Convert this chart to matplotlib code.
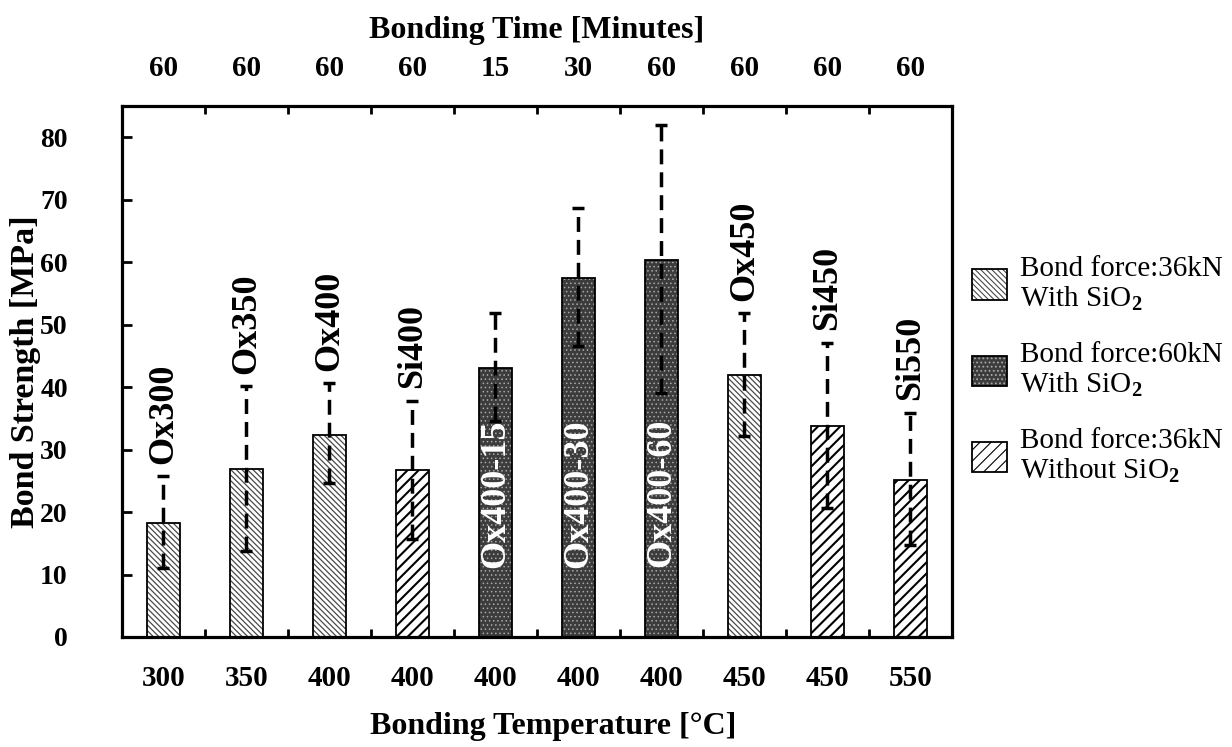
"""
plot.py

Bond strength of the wafer samples, grouped by bond force and oxide layer.
Saves the figure as out.png
"""

import numpy as np
import matplotlib
matplotlib.use("Agg")
import matplotlib.pyplot as plt
from matplotlib.patches import Patch
from matplotlib.legend_handler import HandlerTuple


# Data
sample_names = ["Ox300", "Ox350", "Ox400", "Si400", "Ox400-15",
                "Ox400-30", "Ox400-60", "Ox450", "Si450", "Si550"]
temperatures = ["300", "350", "400", "400", "400", "400", "400", "450", "450", "550"]
bond_times = ["60", "60", "60", "60", "15", "30", "60", "60", "60", "60"]
groups = ["ox36", "ox36", "ox36", "si36", "ox60", "ox60", "ox60", "ox36", "si36", "si36"]
strength = [18.3, 26.9, 32.4, 26.8, 43.0, 57.4, 60.4, 42.0, 33.8, 25.2]
err_low = [11.0, 13.8, 24.7, 15.7, 34.5, 46.5, 39.1, 32.2, 20.7, 14.7]
err_high = [25.7, 40.1, 40.6, 37.8, 51.9, 68.6, 81.9, 51.8, 47.1, 35.9]

group_labels = {
    "ox36": "Bond force:36kN\nWith SiO$_2$",
    "ox60": "Bond force:60kN\nWith SiO$_2$",
    "si36": "Bond force:36kN\nWithout SiO$_2$",
}


def setup_fonts():
    plt.rcParams["font.family"] = ["Liberation Serif", "DejaVu Serif"]
    plt.rcParams["font.weight"] = "bold"
    plt.rcParams["mathtext.fontset"] = "custom"
    plt.rcParams["mathtext.rm"] = "Liberation Serif"
    plt.rcParams["hatch.linewidth"] = 0.8


def bar_style(group):
    # face, hatch colour, hatch pattern, hatch line width
    if group == "ox36":
        return "white", "#4a4a4a", "\\" * 6, 0.9
    if group == "ox60":
        return "#3c3c3c", "#a8a8a8", "....", 0.6
    return "white", "black", "/" * 3, 1.5


def hatched_patch(artist, lw):
    # per-artist hatch width only if this matplotlib has it
    if hasattr(artist, "set_hatch_linewidth"):
        artist.set_hatch_linewidth(lw)


def plot_bonds(output_path="out.png"):
    setup_fonts()

    x = np.arange(len(sample_names))
    values = np.array(strength)
    low = np.array(err_low)
    high = np.array(err_high)
    width = 0.40

    fig = plt.figure(figsize=(12.32, 7.47), dpi=100)
    ax = fig.add_axes([0.099, 0.1473, 0.6737, 0.7108])

    handles = {}
    for g in ["ox36", "ox60", "si36"]:
        mask = np.array([gr == g for gr in groups])
        face, hcol, hatch, hlw = bar_style(g)
        # filled + hatched part, then the black outline on top
        bars = ax.bar(x[mask], values[mask], width, color=face, edgecolor=hcol,
                      hatch=hatch, linewidth=0, zorder=2)
        for b in bars:
            hatched_patch(b, hlw)
        ax.bar(x[mask], values[mask], width, fill=False, edgecolor="black",
               linewidth=1.3, zorder=3)
        fill_h = Patch(facecolor=face, edgecolor=hcol, hatch=hatch, linewidth=0)
        hatched_patch(fill_h, hlw)
        handles[g] = (fill_h, Patch(fill=False, edgecolor="black", linewidth=1.3))

    # dashed error bars
    eb = ax.errorbar(x, values, yerr=[values - low, high - values], fmt="none",
                     ecolor="black", elinewidth=2.5, capsize=4.5, capthick=2.5,
                     zorder=4)
    eb.lines[2][0].set_linestyle((0, (4.3, 2.3)))

    # sample names, white inside the dark bars
    for i, name in enumerate(sample_names):
        if groups[i] == "ox60":
            ax.text(x[i], 23, name, rotation=90, ha="center", va="center",
                    color="white", fontsize=26, fontweight="bold", zorder=5)
        else:
            ax.annotate(name, (x[i], high[i]), xytext=(0, 9),
                        textcoords="offset points", rotation=90, ha="center",
                        va="bottom", fontsize=26, fontweight="bold", zorder=5)

    ax.set_xlim(-0.5, len(x) - 0.5)
    ax.set_ylim(0, 85)
    ax.set_yticks(np.arange(0, 81, 10))
    ax.set_xticks(x)
    ax.set_xticklabels(temperatures)
    ax.set_xticks(x[:-1] + 0.5, minor=True)
    ax.tick_params(axis="x", which="major", length=0, pad=20, labelsize=21)
    ax.tick_params(axis="x", which="minor", direction="in", length=6, width=2)
    ax.tick_params(axis="y", direction="in", length=7, width=2, pad=39, labelsize=20)

    for side in ax.spines.values():
        side.set_linewidth(2.3)

    # top axis with the bonding time
    ax2 = ax.twiny()
    ax2.set_xlim(ax.get_xlim())
    ax2.set_xticks(x)
    ax2.set_xticklabels(bond_times)
    ax2.set_xticks(x[:-1] + 0.5, minor=True)
    ax2.tick_params(axis="x", which="major", length=0, pad=17, labelsize=21)
    ax2.tick_params(axis="x", which="minor", direction="in", length=6, width=2)

    ax.set_xlabel("Bonding Temperature [°C]", fontsize=23, fontweight="bold")
    ax.xaxis.set_label_coords(0.52, -0.141)
    ax2.set_xlabel("Bonding Time [Minutes]", fontsize=23, fontweight="bold")
    ax2.xaxis.set_label_coords(0.5, 1.128)
    ax.set_ylabel("Bond Strength [MPa]", fontsize=24.5, fontweight="bold")
    ax.yaxis.set_label_coords(-0.097, 0.5)

    leg = fig.legend([handles[g] for g in ["ox36", "ox60", "si36"]],
                     [group_labels[g] for g in ["ox36", "ox60", "si36"]],
                     handler_map={tuple: HandlerTuple(ndivide=1)},
                     loc="upper left", bbox_to_anchor=(972 / 1232, 1 - 256 / 747),
                     frameon=False, borderpad=0, borderaxespad=0,
                     prop={"size": 21, "weight": "normal"},
                     handlelength=1.2, handleheight=1.24, handletextpad=0.45,
                     labelspacing=1.0)
    for t in leg.get_texts():
        t.set_linespacing(1.1)

    fig.savefig(output_path, dpi=100)
    print(f"Figure saved: {output_path}")


if __name__ == "__main__":
    plot_bonds("out.png")
